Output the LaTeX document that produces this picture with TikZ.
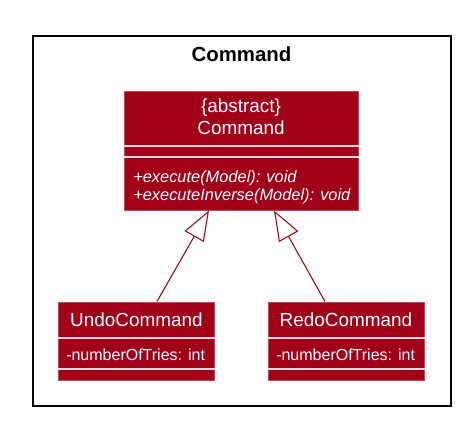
\documentclass[tikz,border=0pt]{standalone}
\usepackage{fontspec}
\setmainfont{Liberation Sans}
\usetikzlibrary{fit,arrows.meta}
\definecolor{clsfill}{HTML}{A00018}
\definecolor{clsborder}{HTML}{C24A5A}
\definecolor{divline}{HTML}{F4D6DA}
\tikzset{
  cls/.style={draw=clsborder, fill=clsfill, line width=0.75pt, inner sep=0pt},
  divider/.style={draw=divline, line width=0.9pt},
  clsname/.style={text=white, font=\fontsize{14.2pt}{17pt}\selectfont, inner sep=0pt, anchor=base},
  member/.style={text=white, font=\fontsize{12pt}{14pt}\selectfont, inner sep=0pt, anchor=base west},
  method/.style={member, font=\fontsize{12.3pt}{14pt}\selectfont\itshape},
  inh/.style={draw=clsfill, line width=0.8pt, -{Triangle[open, length=22.5pt, width=16.5pt, fill=white]}},
  pkg/.style={draw=black, line width=1.2pt},
  pkgtitle/.style={font=\fontsize{15.3pt}{18pt}\selectfont\bfseries, inner sep=0pt, anchor=base}
}
\begin{document}
\begin{tikzpicture}[x=0.75pt, y=-0.75pt]
\useasboundingbox (0,0) rectangle (465,421);
% package frame
\node[pkg, fit={(33,36) (451,406)}, inner sep=0pt] (pkg) {};
\node[pkgtitle] (pkgt) at (241.5,61) {Command};
% Command class
\node[cls, fit={(124,91) (358,210)}] (cmd) {};
\draw[divider] (cmd.west |- 0,146) -- (cmd.east |- 0,146);
\draw[divider] (cmd.west |- 0,157) -- (cmd.east |- 0,157);
\node[clsname] (cmdst) at (241,112) {\{abstract\}};
\node[clsname] (cmdn) at (241,134) {Command};
\node[method] (m1) at (133,182) {+execute(Model): void};
\node[method] (m2) at (133,200) {+executeInverse(Model): void};
% UndoCommand
\node[cls, fit={(58,302) (214,380)}] (undo) {};
\draw[divider] (undo.west |- 0,338) -- (undo.east |- 0,338);
\draw[divider] (undo.west |- 0,369) -- (undo.east |- 0,369);
\node[clsname] (undon) at (136.5,326) {UndoCommand};
\node[member] (undoa) at (66,360) {-numberOfTries: int};
% RedoCommand
\node[cls, fit={(268,302) (424,380)}] (redo) {};
\draw[divider] (redo.west |- 0,338) -- (redo.east |- 0,338);
\draw[divider] (redo.west |- 0,369) -- (redo.east |- 0,369);
\node[clsname] (redon) at (346,326) {RedoCommand};
\node[member] (redoa) at (276,360) {-numberOfTries: int};
% inheritance
\coordinate (u1) at (157,0);
\coordinate (c1) at (209,0);
\coordinate (r1) at (325,0);
\coordinate (c2) at (274,0);
\draw[inh] (undo.north -| u1) -- (cmd.south -| c1);
\draw[inh] (redo.north -| r1) -- (cmd.south -| c2);
\end{tikzpicture}
\end{document}
